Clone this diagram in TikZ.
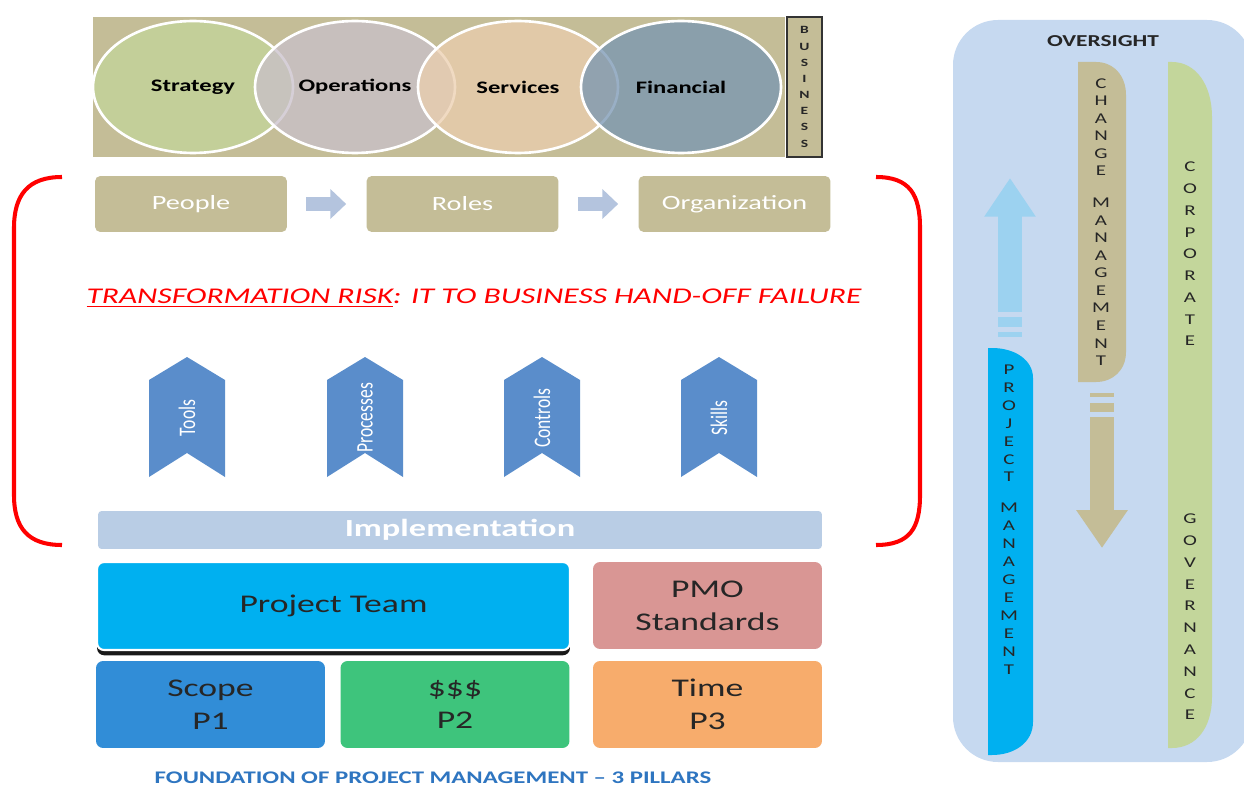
\documentclass[tikz,border=0pt]{standalone}
\usepackage{graphicx}
\usepackage{fontspec}
\setmainfont{Carlito}[FakeStretch=1.4]
\newfontfamily\slimfont{Carlito}
\usetikzlibrary{arrows.meta}
\usetikzlibrary{shapes.geometric}
\usetikzlibrary{shadows}

\definecolor{bizTan}{HTML}{C4BD97}
\definecolor{stratGreen}{HTML}{C3D69B}
\definecolor{opsMauve}{HTML}{C9C0CA}
\definecolor{servPeach}{HTML}{EBCEAE}
\definecolor{finSlate}{HTML}{7795B2}
\definecolor{flowBlue}{HTML}{B4C4DE}
\definecolor{chevBlue}{HTML}{5A8DCB}
\definecolor{implBlue}{HTML}{B9CDE5}
\definecolor{teamBlue}{HTML}{00B0F0}
\definecolor{pmoRose}{HTML}{D99694}
\definecolor{scopeBlue}{HTML}{318DD7}
\definecolor{costGreen}{HTML}{3EC47C}
\definecolor{timeOrange}{HTML}{F7AC6C}
\definecolor{panelBlue}{HTML}{C6D9F0}
\definecolor{upBlue}{HTML}{9CD2F0}
\definecolor{footBlue}{HTML}{2E75C0}

\tikzset{
  ring/.style={ellipse, draw=white, line width=1.5pt, fill opacity=0.75, text opacity=1,
    minimum width=4cm, minimum height=2.64cm, font=\fontsize{10}{12}\selectfont\bfseries},
  tanbox/.style={rectangle, rounded corners=3pt, fill=bizTan, text=white,
    minimum width=3.84cm, minimum height=1.12cm, font=\fontsize{11.5}{13}\selectfont},
  flow/.style={line width=8.5pt, draw=flowBlue, -{Triangle[length=9pt, width=16.5pt]}},
  chev/.style={fill=chevBlue},
  chevtext/.style={rotate=90, text=white, font=\slimfont\fontsize{10}{12}\selectfont},
  pillar/.style={rectangle, rounded corners=4pt, minimum width=4.58cm, minimum height=1.74cm,
    align=center, text=black!85, font=\fontsize{14.5}{18.7}\selectfont},
  letters/.style={align=center, text=black!85}
}

\begin{document}
\begin{tikzpicture}[x=0.02cm, y=-0.02cm]
  \useasboundingbox (0,0) rectangle (1244,787);

  % business band
  \node[fill=bizTan, minimum width=13.84cm, minimum height=2.8cm, inner sep=0pt] (band) at (439,87) {};
  \node[ring, fill=stratGreen] (strategy) at (193,87) {Strategy};
  \node[ring, fill=opsMauve] (operations) at (355,87) {Operations};
  \node[ring, fill=servPeach] (services) at (518,87) {Services};
  \node[ring, fill=finSlate] (financial) at (681,87) {Financial};
  \node[draw=black!80, line width=1pt, fill=bizTan, minimum width=0.7cm, minimum height=2.8cm,
    inner sep=0pt, letters, font=\fontsize{6.3}{9.2}\selectfont\bfseries] (business) at (804.5,87)
    {B\\U\\S\\I\\N\\E\\S\\S};

  % brackets
  \draw[red, line width=2.3pt] (62,177) .. controls (28,177) and (14,195) .. (14,228) -- (14,495)
    .. controls (14,528) and (28,545) .. (62,545);
  \draw[red, line width=2.3pt] (876,177) .. controls (910,177) and (920,195) .. (920,228) -- (920,495)
    .. controls (920,528) and (910,545) .. (876,545);

  % people -> roles -> organization
  \node[tanbox] (people) at (191,204) {People};
  \node[tanbox] (roles) at (462.5,204) {Roles};
  \node[tanbox] (organization) at (734.5,204) {Organization};
  \draw[flow, shorten <=0.38cm, shorten >=0.4cm] (people) -- (roles);
  \draw[flow, shorten <=0.38cm, shorten >=0.4cm] (roles) -- (organization);

  \node[text=red, font=\fontsize{12.8}{14}\selectfont\itshape] (risk) at (474,298)
    {\underline{TRANSFORMATION RISK}: IT TO BUSINESS HAND-OFF FAILURE};

  % chevrons
  \fill[chev] (149,380) -- (187,357) -- (225,380) -- (225,477) -- (187,453) -- (149,477) -- cycle;
  \fill[chev] (327,380) -- (365,357) -- (403,380) -- (403,477) -- (365,453) -- (327,477) -- cycle;
  \fill[chev] (504,380) -- (542,357) -- (580,380) -- (580,477) -- (542,453) -- (504,477) -- cycle;
  \fill[chev] (681,380) -- (719,357) -- (757,380) -- (757,477) -- (719,453) -- (681,477) -- cycle;
  \node[chevtext] (tools) at (187,418) {\scalebox{1}[1.35]{Tools}};
  \node[chevtext] (processes) at (365,418) {\scalebox{1}[1.35]{Processes}};
  \node[chevtext] (controls) at (542,418) {\scalebox{1}[1.35]{Controls}};
  \node[chevtext] (skills) at (719,418) {\scalebox{1}[1.35]{Skills}};

  \node[fill=implBlue, rounded corners=2pt, text=white, minimum width=14.48cm, minimum height=0.76cm,
    font=\fontsize{14}{16}\selectfont\bfseries] (impl) at (460,530) {Implementation};

  % foundation
  \node[pillar, fill=teamBlue, draw=white, line width=1.2pt, minimum width=9.46cm, minimum height=1.76cm,
    drop shadow={shadow xshift=0pt, shadow yshift=-3pt, fill=black, opacity=0.9}] (team) at (333.5,606) {Project Team};
  \node[pillar, fill=pmoRose] (pmo) at (707.5,605.5) {PMO\\Standards};
  \node[pillar, fill=scopeBlue] (scope) at (210.5,704.5) {Scope\\P1};
  \node[pillar, fill=costGreen] (cost) at (455,704.5) {\$\$\$\\P2};
  \node[pillar, fill=timeOrange] (time) at (707.5,704.5) {Time\\P3};
  \node[text=footBlue, font=\fontsize{10.1}{11}\selectfont\bfseries] (foot) at (433,778)
    {FOUNDATION OF PROJECT MANAGEMENT -- 3 PILLARS};

  % oversight panel
  \fill[panelBlue, rounded corners=0.9cm] (953,20) rectangle (1252,762);
  \node[text=black!85, font=\fontsize{9.5}{11}\selectfont\bfseries] (oversight) at (1103,41) {OVERSIGHT};

  \fill[bizTan] (1078,382) -- (1078,62) -- (1096,62) .. controls (1113,62) and (1126,75) .. (1126,95)
    -- (1126,352) .. controls (1126,370) and (1113,382) .. (1096,382) -- cycle;
  \fill[stratGreen] (1168,748) -- (1168,62) -- (1172,62) .. controls (1196,62) and (1212,85) .. (1212,117)
    -- (1212,697) .. controls (1212,728) and (1196,748) .. (1172,748) -- cycle;
  \fill[teamBlue] (988,755) -- (988,348) -- (992,348) .. controls (1015,348) and (1033,360) .. (1033,378)
    -- (1033,722) .. controls (1033,742) and (1015,755) .. (992,755) -- cycle;

  \coordinate (uptail) at (1010,312);
  \coordinate (uptip) at (1010,178);
  \draw[line width=13.6pt, draw=upBlue, -{Triangle[length=22pt, width=27.8pt]}] (uptail) -- (uptip);
  \fill[upBlue] (998,317) rectangle (1022,327);
  \fill[upBlue] (998,332) rectangle (1022,337);

  \coordinate (downtail) at (1102,417);
  \coordinate (downtip) at (1102,548);
  \draw[line width=13.6pt, draw=bizTan, -{Triangle[length=21.5pt, width=27.8pt]}] (downtail) -- (downtip);
  \fill[bizTan] (1090,393) rectangle (1114,397);
  \fill[bizTan] (1090,403) rectangle (1114,412);

  \node[letters, font=\fontsize{8.5}{10}\selectfont] (change) at (1101,222)
    {C\\H\\A\\N\\G\\E\\[8pt]M\\A\\N\\A\\G\\E\\M\\E\\N\\T};
  \node[letters, font=\fontsize{8.5}{12.4}\selectfont] (corporate) at (1190,254)
    {C\\O\\R\\P\\O\\R\\A\\T\\E};
  \node[letters, font=\fontsize{8.5}{12.4}\selectfont] (governance) at (1190,617)
    {G\\O\\V\\E\\R\\N\\A\\N\\C\\E};
  \node[letters, font=\fontsize{8.5}{10.2}\selectfont] (projmgmt) at (1009,519.5)
    {P\\R\\O\\J\\E\\C\\T\\[7.4pt]M\\A\\N\\A\\G\\E\\M\\E\\N\\T};
\end{tikzpicture}
\end{document}
